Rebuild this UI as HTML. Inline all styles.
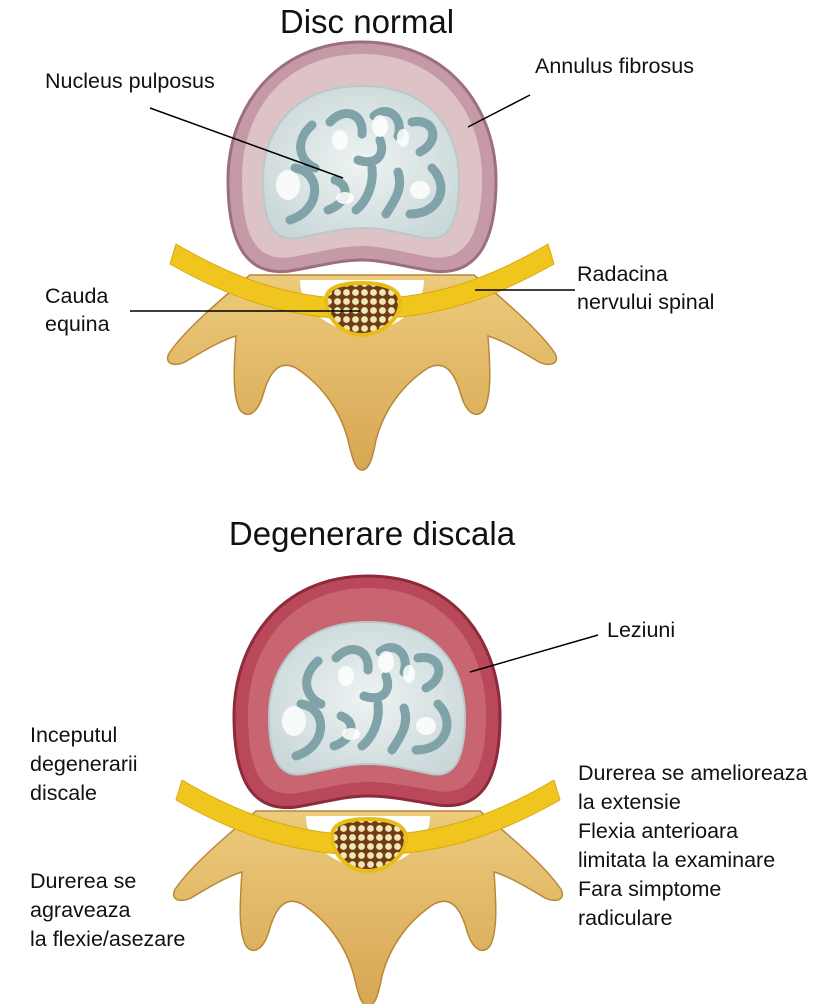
<!DOCTYPE html>
<html><head><meta charset="utf-8"><style>
html,body{margin:0;padding:0;background:#fff}
svg{display:block}
text{font-family:"Liberation Sans",sans-serif;fill:#111}
</style></head><body>
<svg width="814" height="1004" viewBox="0 0 814 1004" xmlns="http://www.w3.org/2000/svg">
<defs>
<linearGradient id="bone" x1="0" y1="0" x2="0" y2="1">
<stop offset="0" stop-color="#eccb7c"/><stop offset="1" stop-color="#d7a653"/></linearGradient>
<radialGradient id="nuc" cx="0.5" cy="0.5" r="0.6">
<stop offset="0" stop-color="#eef3f3"/><stop offset="1" stop-color="#c9d7d8"/></radialGradient>
<pattern id="dots" width="9" height="9" patternUnits="userSpaceOnUse">
<rect width="9" height="9" fill="#6e3d12"/><circle cx="4.5" cy="4.5" r="3.4" fill="#f1e6b8"/></pattern>
<g id="vert">
<path d="M250,275 C220,300 185,330 170,352 C163,362 172,368 185,362 C205,350 222,340 236,336 C234,365 232,395 240,410 C248,420 258,412 263,395 C270,370 280,360 296,368 C322,385 340,410 348,440 C353,462 356,470 362,470 C368,470 372,462 376,440 C384,410 402,385 428,368 C444,360 454,370 461,395 C466,412 476,420 484,410 C492,395 490,365 488,336 C502,340 519,350 539,362 C552,368 561,362 554,352 C539,330 504,300 474,275 Z" fill="url(#bone)" stroke="#b8883a" stroke-width="1.5"/>
<path d="M300,280 C300,310 330,330 362,333 C394,330 424,310 424,280 Z" fill="#fff"/>
<path d="M176,244 C230,276 280,294 335,298 L335,318 C280,314 230,298 170,264 Z" fill="#f0c61e" stroke="#d9a90e" stroke-width="1"/>
<path d="M548,244 C494,276 444,294 389,298 L389,318 C444,314 494,298 554,264 Z" fill="#f0c61e" stroke="#d9a90e" stroke-width="1"/>
<path d="M326,300 C326,286 345,283 362,283 C385,283 400,289 400,302 C400,320 380,335 362,335 C342,335 326,318 326,300 Z" fill="url(#dots)" stroke="#e9bd18" stroke-width="4"/>
</g>
<g id="nucl">
<path d="M362,86 C430,86 459,130 459,180 C459,224 448,242 425,238 C405,234 385,228 362,228 C340,228 318,234 298,238 C274,242 263,224 263,180 C263,130 294,86 362,86 Z" fill="url(#nuc)" stroke="#b8c9ca" stroke-width="2"/>
<g fill="none" stroke="#7fa3a8" stroke-width="9" stroke-linecap="round">
<path d="M312,125 C295,140 298,160 315,168"/>
<path d="M330,122 C345,106 364,114 362,134"/>
<path d="M374,116 C388,104 404,118 398,136"/>
<path d="M412,122 C436,118 440,142 420,152"/>
<path d="M295,168 C322,172 322,210 290,220"/>
<path d="M335,180 C352,186 346,204 328,210"/>
<path d="M372,168 C374,186 366,202 356,210"/>
<path d="M398,172 C404,190 392,204 386,214"/>
<path d="M432,168 C450,186 440,214 410,214"/>
<path d="M380,140 C386,156 375,166 358,160"/>
</g>
<g fill="#fff" opacity="0.85">
<ellipse cx="288" cy="185" rx="12" ry="15"/><ellipse cx="380" cy="126" rx="8" ry="11"/>
<ellipse cx="340" cy="140" rx="8" ry="10"/><ellipse cx="420" cy="190" rx="10" ry="9"/>
<ellipse cx="345" cy="198" rx="9" ry="6"/><ellipse cx="403" cy="138" rx="6" ry="9"/>
</g>
</g>
</defs>

<text x="367" y="33" font-size="33" text-anchor="middle">Disc normal</text>
<use href="#vert"/>
<path d="M362,42 C450,42 496,110 496,180 C496,250 472,276 432,271 C402,266 382,260 362,260 C340,260 320,266 290,271 C250,276 228,250 228,180 C228,110 274,42 362,42 Z" fill="#c59aa6" stroke="#9c6f80" stroke-width="3"/>
<path d="M362,54 C440,54 482,112 482,178 C482,240 462,262 430,257 C402,252 382,246 362,246 C340,246 320,252 292,257 C258,262 242,240 242,178 C242,112 284,54 362,54 Z" fill="#e6d0d0" opacity="0.75"/>
<use href="#nucl"/>

<text x="45" y="88" font-size="21.5">Nucleus pulposus</text>
<line x1="150" y1="108" x2="343" y2="178" stroke="#000" stroke-width="1.5"/>
<text x="535" y="73" font-size="21.5">Annulus fibrosus</text>
<line x1="530" y1="95" x2="468" y2="127" stroke="#000" stroke-width="1.5"/>
<text x="45" y="303" font-size="21.5">Cauda</text>
<text x="45" y="331" font-size="21.5">equina</text>
<line x1="130" y1="311" x2="360" y2="311" stroke="#000" stroke-width="1.5"/>
<text x="577" y="281" font-size="21.5">Radacina</text>
<text x="577" y="309" font-size="21.5">nervului spinal</text>
<line x1="575" y1="290" x2="475" y2="290" stroke="#000" stroke-width="1.5"/>

<text x="372" y="545" font-size="33" text-anchor="middle">Degenerare discala</text>
<g transform="translate(6,536)">
<use href="#vert"/>
<path d="M362,40 C452,40 494,110 494,180 C494,250 472,274 432,269 C402,264 382,260 362,260 C340,260 320,266 290,271 C250,276 228,250 228,180 C228,110 272,40 362,40 Z" fill="#b8485a" stroke="#8d2a3c" stroke-width="3"/>
<path d="M362,52 C440,52 480,112 480,178 C480,240 462,260 430,255 C402,250 382,246 362,246 C340,246 320,252 292,257 C258,262 242,240 242,178 C242,112 284,52 362,52 Z" fill="#d27a80" opacity="0.6"/>
<use href="#nucl"/>
</g>
<text x="607" y="637" font-size="21.5">Leziuni</text>
<line x1="598" y1="635" x2="470" y2="672" stroke="#000" stroke-width="1.5"/>
<text x="30" y="742" font-size="21.5">Inceputul</text>
<text x="30" y="771" font-size="21.5">degenerarii</text>
<text x="30" y="800" font-size="21.5">discale</text>
<text x="30" y="888" font-size="21.5">Durerea se</text>
<text x="30" y="917" font-size="21.5">agraveaza</text>
<text x="30" y="946" font-size="21.5">la flexie/asezare</text>
<text x="578" y="780" font-size="21.5">Durerea se amelioreaza</text>
<text x="578" y="809" font-size="21.5">la extensie</text>
<text x="578" y="838" font-size="21.5">Flexia anterioara</text>
<text x="578" y="867" font-size="21.5">limitata la examinare</text>
<text x="578" y="896" font-size="21.5">Fara simptome</text>
<text x="578" y="925" font-size="21.5">radiculare</text>
</svg>
</body></html>
